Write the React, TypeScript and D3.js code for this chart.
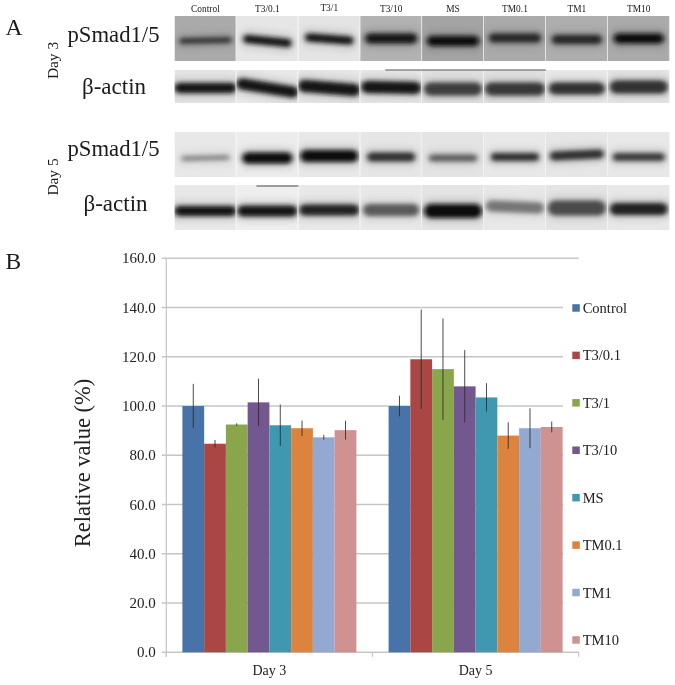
import React from "react";
import * as d3 from "d3";

const series = ["Control", "T3/0.1", "T3/1", "T3/10", "MS", "TM0.1", "TM1", "TM10"];
const colors = ["#4673A8", "#AA4644", "#8AA64E", "#72588E", "#4198B0", "#DC843C", "#94A9D0", "#D09291"];
const days = ["Day 3", "Day 5"];
const day3Values = [100, 84.7, 92.5, 101.5, 92.2, 91, 87.3, 90.2];
const day5Values = [100, 119, 115, 108, 103.5, 88, 91, 91.5];
const day3Errors = [9, 1.5, 0.5, 9.6, 8.4, 3.1, 1, 3.8];
const day5Errors = [4.2, 20.2, 20.6, 14.7, 5.8, 5.4, 8.1, 2.2];
const yTicks = [0, 20, 40, 60, 80, 100, 120, 140, 160];

// Blot densitometry: background grey, band offset, thickness, grey, tilt
const r1Bg = [170, 230, 228, 178, 164, 170, 174, 170];
const r1Pos = [24.5, 25, 23, 22.5, 25, 22, 23.5, 22.5];
const r1Thick = [6, 8, 8, 10, 10, 9, 9, 10];
const r1Gray = [55, 20, 25, 20, 8, 40, 40, 15];
const r1Tilt = [-1, 4, 3, 0, 0, 0, 0, 0];
const r1Inset = [5, 7, 7, 5, 5, 5, 6, 6];
const r2Bg = [228, 232, 230, 230, 224, 224, 232, 228];
const r2Pos = [18, 18, 18, 17.5, 19, 19, 18.5, 17];
const r2Thick = [10, 11, 12, 12, 13, 13, 12, 13];
const r2Gray = [22, 22, 22, 20, 60, 55, 50, 48];
const r2Tilt = [0, 8, 4, 1, 0, 0, 0, 0];
const r2Inset = [0, 0, 0, 1, 2, 1, 3, 2];
const r3Bg = [232, 236, 232, 230, 228, 232, 230, 232];
const r3Pos = [26, 26, 24, 25, 26, 25, 23, 25];
const r3Thick = [5, 11, 12, 9, 7, 8, 9, 8];
const r3Gray = [135, 12, 8, 50, 95, 50, 50, 62];
const r3Tilt = [-1, 0, 0, 0, 0, 0, -2, 0];
const r3Inset = [7, 6, 2, 7, 7, 7, 4, 5];
const r4Bg = [232, 238, 232, 232, 228, 232, 228, 232];
const r4Pos = [26, 26, 25, 25, 26, 22, 23, 24];
const r4Thick = [10, 11, 11, 12, 14, 11, 15, 12];
const r4Gray = [22, 22, 35, 90, 8, 118, 75, 35];
const r4Tilt = [0, 0, 0, 0, 0, 2, 0, 0];
const r4Inset = [0, 1, 1, 3, 2, 2, 2, 2];

const blotRows = [
  { name: "r1", bg: r1Bg, pos: r1Pos, thick: r1Thick, gray: r1Gray, tilt: r1Tilt, inset: r1Inset },
  { name: "r2", bg: r2Bg, pos: r2Pos, thick: r2Thick, gray: r2Gray, tilt: r2Tilt, inset: r2Inset },
  { name: "r3", bg: r3Bg, pos: r3Pos, thick: r3Thick, gray: r3Gray, tilt: r3Tilt, inset: r3Inset },
  { name: "r4", bg: r4Bg, pos: r4Pos, thick: r4Thick, gray: r4Gray, tilt: r4Tilt, inset: r4Inset },
];

const W = 675;
const H = 685;
const plot = { left: 166.3, right: 578.7, top: 258.3, bottom: 652.3, gridEnd: 563 };
const serif = "'Liberation Serif', serif";

export default function App() {
  const y = d3.scaleLinear().domain([0, 160]).range([plot.bottom, plot.top]);
  const x0 = d3.scaleBand<string>().domain(days).range([plot.left, plot.right]);
  const x1 = d3.scaleBand<string>().domain(series).range([0, x0.bandwidth()]).paddingInner(0).paddingOuter(0.74);
  const legendY = d3.scalePoint<string>().domain(series).range([308, 640]);
  const lane = d3.scaleBand<string>().domain(series).range([174.5, 669.7]);
  const rowTop = d3.scaleOrdinal<string, number>().domain(blotRows.map((r) => r.name)).range([16, 70, 132, 185]);
  const rowH = d3.scaleOrdinal<string, number>().domain(blotRows.map((r) => r.name)).range([45, 33, 45, 45]);
  const g = (v: number) => d3.rgb(v, v, v).formatHex();
  const valuesByDay = [day3Values, day5Values];
  const errorsByDay = [day3Errors, day5Errors];

  return (
    <svg width={W} height={H} viewBox={`0 0 ${W} ${H}`} style={{ position: "absolute", left: 0, top: 0, display: "block", background: "#fff" }}>
      <defs>
        <filter id="band" filterUnits="userSpaceOnUse" x={0} y={0} width={W} height={240}>
          <feGaussianBlur stdDeviation="2.4 2" />
        </filter>
        <filter id="halo" filterUnits="userSpaceOnUse" x={0} y={0} width={W} height={240}>
          <feGaussianBlur stdDeviation="3 4" />
        </filter>
        <filter id="soft" filterUnits="userSpaceOnUse" x={0} y={0} width={W} height={H}>
          <feGaussianBlur stdDeviation="0.35" />
        </filter>
        {blotRows.flatMap((r) =>
          series.map((s, i) => (
            <clipPath id={`clip-${r.name}-${i}`} key={`${r.name}-${s}`}>
              <rect x={lane(s)!} y={rowTop(r.name)} width={lane.bandwidth()} height={rowH(r.name)} />
            </clipPath>
          ))
        )}
      </defs>

      <g filter="url(#soft)">
        {/* Panel A */}
        <g fontFamily={serif} fill="#1a1a1a">
          <text x={5.5} y={35} fontSize={23.5}>A</text>
          <text x={5.5} y={269} fontSize={23.5}>B</text>
          <text x={67.5} y={41.7} fontSize={22.7}>pSmad1/5</text>
          <text x={82} y={94} fontSize={23}>β-actin</text>
          <text x={67.5} y={155.7} fontSize={22.7}>pSmad1/5</text>
          <text x={83.5} y={211} fontSize={23}>β-actin</text>
          <text transform="translate(58,60.5) rotate(-90)" textAnchor="middle" fontSize={15.4}>Day 3</text>
          <text transform="translate(58,177) rotate(-90)" textAnchor="middle" fontSize={15.4}>Day 5</text>
          {series.map((l) => (
            <text key={l} x={lane(l)! + lane.bandwidth() / 2} y={l === "T3/1" ? 10.5 : 12.3} textAnchor="middle" fontSize={9.4}>{l}</text>
          ))}
        </g>
        {blotRows.map((r) =>
          series.map((s, i) => {
            const lx = lane(s)!;
            const bw = lane.bandwidth();
            const top = rowTop(r.name);
            const cy = top + r.pos[i];
            const t = r.tilt[i];
            const hw = bw / 2 - r.inset[i] - r.thick[i] / 2;
            const cx = lx + bw / 2;
            const path = d3.line()([
              [cx - hw, cy - t / 2],
              [cx + hw, cy + t / 2],
            ]) as string;
            return (
              <g key={`${r.name}-${s}`} clipPath={`url(#clip-${r.name}-${i})`}>
                <rect x={lx} y={top} width={bw} height={rowH(r.name)} fill={g(r.bg[i])} />
                <path d={path} stroke={g(r.gray[i])} strokeWidth={r.thick[i] + 6} strokeLinecap="round" fill="none" opacity={0.2} filter="url(#halo)" />
                <path d={path} stroke={g(r.gray[i])} strokeWidth={r.thick[i]} strokeLinecap="round" fill="none" filter="url(#band)" />
                <rect x={lx + bw - 0.8} y={top} width={0.8} height={rowH(r.name)} fill="#f4f4f4" />
              </g>
            );
          })
        )}
        {/* thin dark membrane edges */}
        <rect x={lane("T3/10")! + 25} y={69.5} width={lane("TM1")! - lane("T3/10")! - 25} height={1} fill="#333" opacity={0.8} />
        <rect x={lane("T3/0.1")! + 20} y={185.5} width={42} height={1} fill="#333" opacity={0.85} />

        {/* Panel B */}
        {yTicks.map((t) => (
          <g key={t}>
            <line
              x1={plot.left - 4.5}
              x2={t === 160 || t === 0 ? plot.right : plot.gridEnd}
              y1={y(t)}
              y2={y(t)}
              stroke="#c6c6c6"
              strokeWidth={1.4}
            />
            <text x={155.8} y={y(t) + 5} textAnchor="end" fontFamily={serif} fontSize={15} fill="#222">{t.toFixed(1)}</text>
          </g>
        ))}
        <line x1={plot.left} x2={plot.left} y1={plot.top} y2={plot.bottom + 4.5} stroke="#c6c6c6" strokeWidth={1.2} />
        {[plot.left, x0(days[1])!, plot.right].map((v, i) => (
          <line key={i} x1={v} x2={v} y1={plot.bottom} y2={plot.bottom + 4.5} stroke="#c6c6c6" strokeWidth={1.2} />
        ))}
        {days.map((d, di) =>
          series.map((s, i) => {
            const v = valuesByDay[di][i];
            const bx = x0(d)! + x1(s)!;
            return <rect key={`${d}-${s}`} x={bx} y={y(v)} width={x1.bandwidth()} height={y(0) - y(v)} fill={colors[i]} />;
          })
        )}
        {days.map((d, di) =>
          series.map((s, i) => {
            const v = valuesByDay[di][i];
            const e = errorsByDay[di][i];
            const cx = x0(d)! + x1(s)! + x1.bandwidth() / 2;
            return <line key={`${d}-${s}-err`} x1={cx} x2={cx} y1={y(v + e)} y2={y(v - e)} stroke="#2c2c2c" strokeWidth={1} opacity={0.85} />;
          })
        )}
        {days.map((d) => (
          <text key={d} x={x0(d)! + x0.bandwidth() / 2} y={675} textAnchor="middle" fontFamily={serif} fontSize={14} fill="#222">{d}</text>
        ))}
        <text transform="translate(90,463) rotate(-90)" textAnchor="middle" fontFamily={serif} fontSize={22.5} fill="#222">Relative value (%)</text>
        {series.map((s, i) => (
          <g key={s}>
            <rect x={572.3} y={legendY(s)! - 3.8} width={7.5} height={7.5} fill={colors[i]} />
            <text x={582.7} y={legendY(s)! + 5} fontFamily={serif} fontSize={14.5} fill="#222">{s}</text>
          </g>
        ))}
      </g>
    </svg>
  );
}
